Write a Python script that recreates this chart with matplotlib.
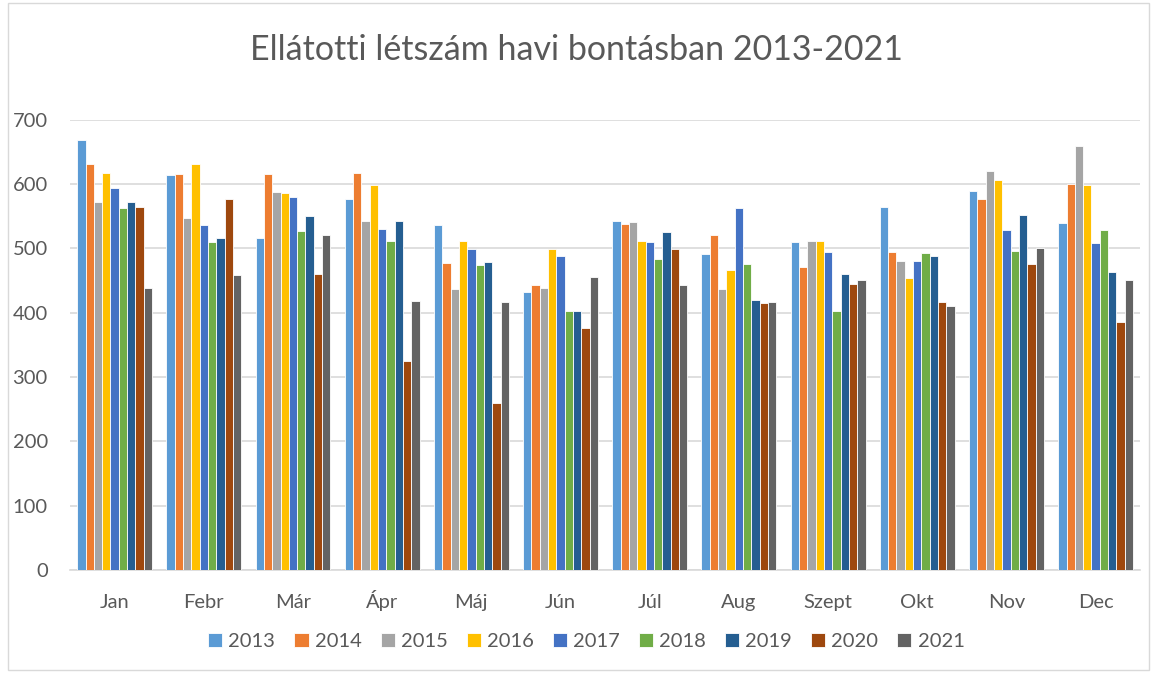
import numpy as np
import matplotlib
matplotlib.use("Agg")
import matplotlib.pyplot as plt
from matplotlib.patches import Rectangle

months = ["Jan", "Febr", "Már", "Ápr", "Máj", "Jún", "Júl", "Aug", "Szept", "Okt", "Nov", "Dec"]
years = ["2013", "2014", "2015", "2016", "2017", "2018", "2019", "2020", "2021"]

v2013 = [669, 614, 517, 577, 537, 433, 543, 491, 510, 565, 589, 540]
v2014 = [631, 616, 616, 618, 477, 443, 538, 521, 471, 495, 577, 600]
v2015 = [572, 547, 588, 543, 437, 438, 541, 437, 512, 481, 621, 660]
v2016 = [617, 631, 586, 599, 512, 499, 512, 467, 512, 454, 607, 599]
v2017 = [594, 537, 580, 530, 499, 489, 510, 563, 494, 480, 529, 508]
v2018 = [563, 510, 527, 512, 474, 402, 484, 476, 402, 493, 496, 529]
v2019 = [573, 517, 551, 543, 479, 403, 526, 420, 461, 488, 552, 464]
v2020 = [564, 577, 461, 325, 259, 377, 499, 415, 445, 416, 476, 386]
v2021 = [438, 459, 521, 418, 416, 455, 443, 417, 451, 411, 500, 451]
series = [v2013, v2014, v2015, v2016, v2017, v2018, v2019, v2020, v2021]

colors = ["#5B9BD5", "#ED7D31", "#A5A5A5", "#FFC000", "#4472C4",
          "#70AD47", "#255E91", "#9E480E", "#636363"]

plt.rcParams['font.family'] = ['Lato', 'DejaVu Sans']
txt = "#595959"

fig = plt.figure(figsize=(11.52, 6.77), dpi=100)
ax = fig.add_axes([0.0608, 0.158, 0.929, 0.665])

x = np.arange(len(months))
group = 0.84
w = group / len(years)
for i, (yr, vals) in enumerate(zip(years, series)):
    off = -group / 2 + w * (i + 0.5)
    ax.bar(x + off, vals, width=w, color=colors[i], edgecolor="white",
           linewidth=0.6, label=yr, zorder=3)

ax.set_xlim(-0.5, len(months) - 0.5)
ax.set_ylim(0, 700)
ax.set_yticks(range(0, 701, 100))
ax.set_xticks(x)
ax.set_xticklabels(months)
ax.yaxis.grid(True, color="#d9d9d9", linewidth=1.2, zorder=0)
ax.tick_params(axis="both", length=0, labelsize=14.5, colors=txt)
ax.tick_params(axis="x", pad=27)
ax.tick_params(axis="y", pad=16)
for lab in ax.get_xticklabels():
    lab.set_va("baseline")
for s in ["top", "right", "left"]:
    ax.spines[s].set_visible(False)
ax.spines["bottom"].set_color("#d9d9d9")
ax.spines["bottom"].set_linewidth(1.2)

fig.suptitle("Ellátotti létszám havi bontásban 2013-2021", y=0.95,
             fontsize=24.5, color=txt)

fig.legend(loc="center", bbox_to_anchor=(0.509, 0.053), ncol=9, frameon=False,
           fontsize=14.5, labelcolor=txt, handlelength=0.7, handleheight=0.7,
           handletextpad=0.3, columnspacing=0.95)

fig.patches.append(Rectangle((0.007, 0.01), 0.99, 0.985, transform=fig.transFigure,
                             fill=False, edgecolor="#d9d9d9", linewidth=1))

fig.savefig("out.png", dpi=100)
